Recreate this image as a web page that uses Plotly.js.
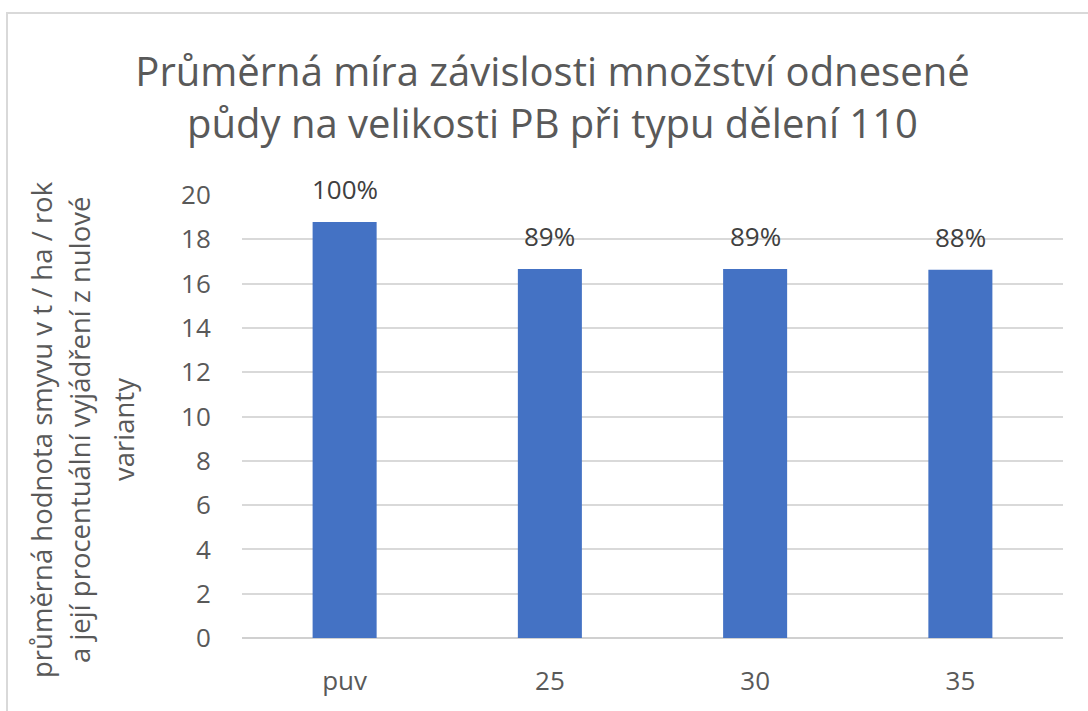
<!DOCTYPE html>
<html>
<head>
<meta charset="utf-8">
<script src="https://cdn.plot.ly/plotly-3.0.1.min.js"></script>
<style>
  body { margin: 0; background: #fff; }
  #frame { position: absolute; left: 6px; top: 12px; width: 1100px; height: 720px; border: 2px solid #d9d9d9; box-sizing: border-box; }
  #chart { position: absolute; left: 0; top: 0; width: 1088px; height: 711px; }
</style>
</head>
<body>
<div id="frame"></div>
<div id="chart"></div>
<script>
const categories = ["puv", "25", "30", "35"];
const values = [18.78, 16.66, 16.66, 16.62];
const labels = ["100%", "89%", "89%", "88%"];
const yTicks = [0, 2, 4, 6, 8, 10, 12, 14, 16, 18, 20];
const titleText = "Průměrná míra závislosti množství odnesené<br>půdy na velikosti PB při typu dělení 110";
const yTitleLines = [
  "průměrná hodnota smyvu v t / ha / rok",
  "a její procentuální vyjádření z nulové",
  "varianty"
];
const yTitleCenters = [41, 79, 123];

const FONT = "Open Sans, DejaVu Sans, sans-serif";

const trace = {
  type: "bar",
  x: categories,
  y: values,
  marker: { color: "#4472C4" },
  hoverinfo: "x+y"
};

const annotations = categories.map((c, i) => ({
  x: i, y: values[i], xref: "x", yref: "y",
  text: labels[i], showarrow: false,
  yanchor: "bottom", yshift: 13,
  font: { family: FONT, size: 26, color: "#404040" }
}));

yTitleLines.forEach((t, i) => {
  annotations.push({
    xref: "paper", yref: "paper",
    x: (yTitleCenters[i] - 242) / 821, y: (638 - 430) / 443,
    xanchor: "center", yanchor: "middle",
    text: t, textangle: -90, showarrow: false,
    font: { family: FONT, size: 27.5, color: "#595959" }
  });
});

const layout = {
  width: 1088, height: 711,
  margin: { l: 242, r: 25, t: 195, b: 73, pad: 0 },
  paper_bgcolor: "rgba(0,0,0,0)",
  plot_bgcolor: "rgba(0,0,0,0)",
  showlegend: false,
  bargap: 0.688,
  title: {
    text: titleText,
    x: 0.5078, xanchor: "center",
    y: 1 - 86 / 711, yanchor: "top",
    font: { family: FONT, size: 40, color: "#595959" }
  },
  xaxis: {
    type: "category",
    range: [-0.5, 3.5],
    tickfont: { family: FONT, size: 26, color: "#595959" },
    ticks: "outside", ticklen: 20, tickcolor: "rgba(0,0,0,0)",
    showgrid: false, showline: false, zeroline: false
  },
  yaxis: {
    range: [0, 20],
    tickvals: yTicks,
    tickfont: { family: FONT, size: 26, color: "#595959" },
    ticks: "outside", ticklen: 25, tickcolor: "rgba(0,0,0,0)",
    showgrid: true, gridcolor: "#d9d9d9", gridwidth: 1.5,
    zeroline: true, zerolinecolor: "#d0d0d0", zerolinewidth: 2,
    showline: false
  },
  annotations: annotations
};

Plotly.newPlot("chart", [trace], layout, { displayModeBar: false, responsive: false });
</script>
</body>
</html>
